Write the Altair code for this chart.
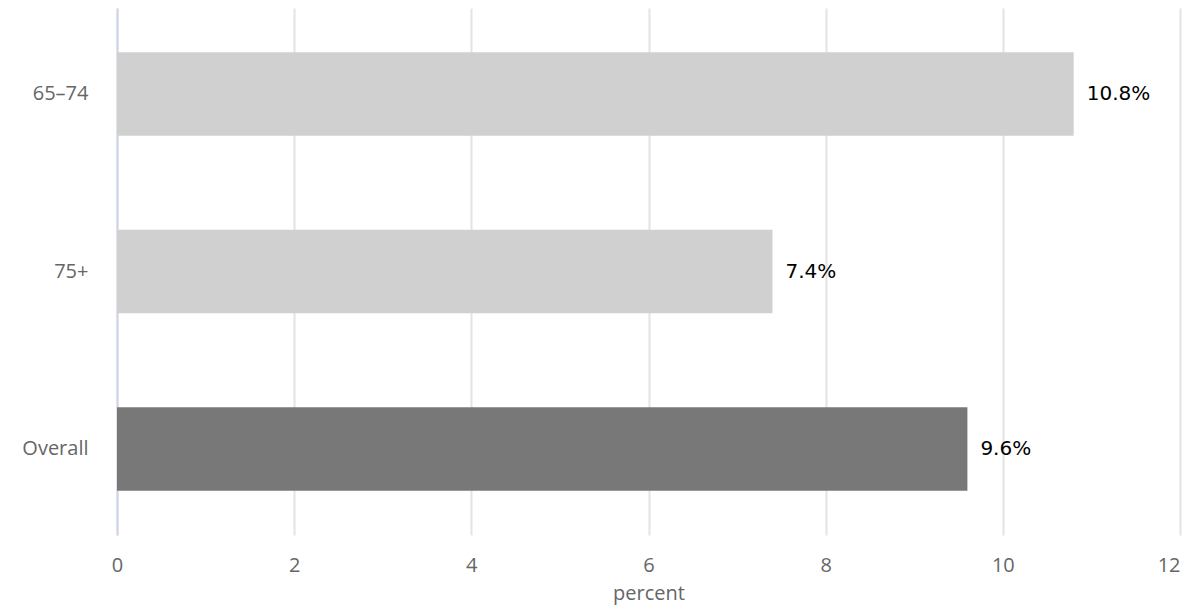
import altair as alt
import pandas as pd

categories = ["65–74", "75+", "Overall"]
values = [10.8, 7.4, 9.6]
labels = ["10.8%", "7.4%", "9.6%"]
groups = ["age", "age", "overall"]

df = pd.DataFrame({"category": categories, "value": values, "label": labels, "group": groups})

base = alt.Chart(df).encode(
    y=alt.Y(
        "category:N",
        sort=categories,
        title=None,
        scale=alt.Scale(paddingInner=0.53, paddingOuter=0.25),
        axis=alt.Axis(
            domain=True, domainColor="#ccd6eb", domainWidth=2,
            ticks=False, tickSize=0, grid=False,
            labelFont="Open Sans", labelFontSize=20, labelColor="#666666",
            labelPadding=29,
        ),
    ),
)

bars = base.mark_bar().encode(
    x=alt.X(
        "value:Q",
        title="percent",
        scale=alt.Scale(domain=[0, 12], nice=False),
        axis=alt.Axis(
            values=[0, 2, 4, 6, 8, 10, 12],
            format="d",
            domain=False, ticks=False, tickSize=0,
            grid=True, gridColor="#e3e3e3", gridWidth=2,
            labelFont="Open Sans", labelFontSize=20, labelColor="#666666",
            labelPadding=20, labelFlush=False,
            labelAlign={"condition": {"test": "datum.value == 12", "value": "right"}, "value": "center"},
            titleFont="Open Sans", titleFontSize=20, titleColor="#666666",
            titleFontWeight="normal", titlePadding=8,
        ),
    ),
    color=alt.Color(
        "group:N",
        scale=alt.Scale(domain=["age", "overall"], range=["#d0d0d0", "#787878"]),
        legend=None,
    ),
)

text = base.mark_text(
    align="left", baseline="middle", dx=13,
    font="DejaVu Sans", fontSize=20, color="#000000",
).encode(
    x=alt.X("value:Q"),
    text="label:N",
)

chart = (bars + text).properties(
    width=1063,
    height=527,
    autosize=alt.AutoSizeParams(type="none"),
    padding={"left": 109, "top": 0, "right": 10, "bottom": 70},
).configure_view(stroke=None)

chart.save("out.html", embed_options={"renderer": "svg", "actions": False})
